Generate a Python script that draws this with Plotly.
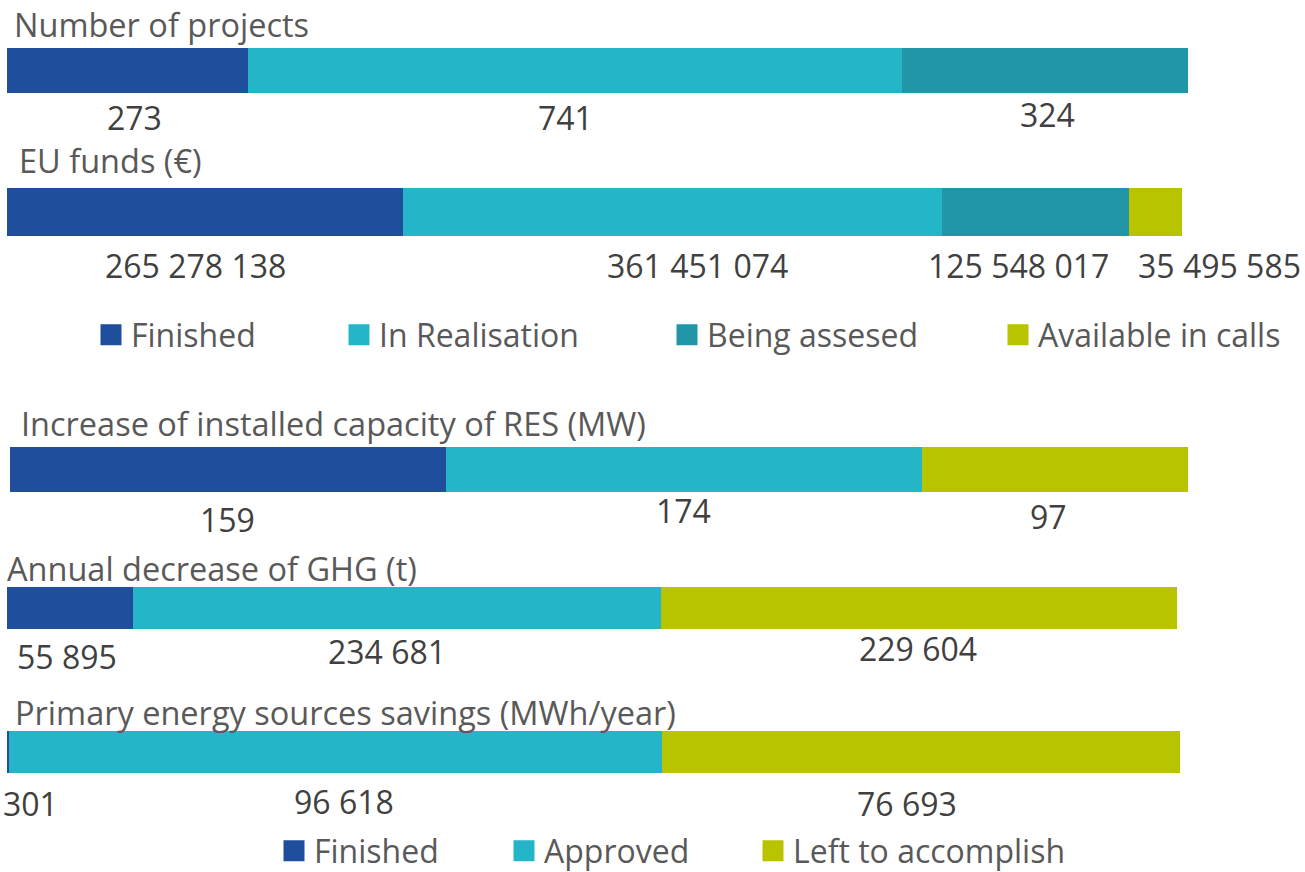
import plotly.graph_objects as go

# ---------------- data ----------------
status_top = ["Finished", "In Realisation", "Being assesed", "Available in calls"]
status_bottom = ["Finished", "Approved", "Left to accomplish"]

chart_titles = [
    "Number of projects",
    "EU funds (€)",
    "Increase of installed capacity of RES (MW)",
    "Annual decrease of GHG (t)",
    "Primary energy sources savings (MWh/year)",
]
projects = [273, 741, 324]                                   # Finished, In Realisation, Being assesed
eu_funds = [265278138, 361451074, 125548017, 35495585]       # + Available in calls
res_mw = [159, 174, 97]                                      # Finished, Approved, Left to accomplish
ghg_t = [55895, 234681, 229604]
pes_mwh = [301, 96618, 76693]

# ---------------- styles ----------------
W, H = 1305, 872
FONT = "Open Sans"
colors_top = ["#1F4E9D", "#25B5C9", "#2096A8", "#B8C400"]
colors_bottom = ["#1F4E9D", "#25B5C9", "#B8C400"]
TITLE_C = "#595959"
LABEL_C = "#404040"

# pixel placement of each bar (left, right, top, bottom)
bar_px = [
    (7, 1188, 48, 93),
    (7, 1182, 188, 236),
    (10, 1188, 447, 492),
    (7, 1177, 587, 629),
    (7, 1180, 731, 773),
]
title_shift = [(5, 24), (10, 28), (9, 23), (-2, 19), (6, 19)]
label_shift = [
    [(7, 24), (-9, 24), (2, 21)],
    [(-9, 29), (25, 29), (-17, 29), (64, 29)],
    [(0, 27), (0, 19), (-7, 24)],
    [(-3, 27), (-10, 22), (-1, 19)],
    [(22, 30), (9, 28), (-14, 30)],
]

series = [projects, eu_funds, res_mw, ghg_t, pes_mwh]
names = [status_top, status_top, status_bottom, status_bottom, status_bottom]
palettes = [colors_top, colors_top, colors_bottom, colors_bottom, colors_bottom]


def fmt(v):
    return f"{v:,}".replace(",", " ")


fig = go.Figure()
annotations = []
layout_axes = {}

for i, (vals, nms, pal) in enumerate(zip(series, names, palettes)):
    k = i + 1
    xa = "x" if k == 1 else f"x{k}"
    ya = "y" if k == 1 else f"y{k}"
    total = sum(vals)
    for j, v in enumerate(vals):
        fig.add_trace(go.Bar(
            x=[v], y=[0], orientation="h", width=1,
            marker=dict(color=pal[j], line=dict(width=0)),
            name=nms[j], showlegend=False, xaxis=xa, yaxis=ya,
            hovertemplate=f"{nms[j]}: {fmt(v)}<extra></extra>",
        ))
    l, r, t, b = bar_px[i]
    layout_axes[f"xaxis{'' if k == 1 else k}"] = dict(
        domain=[l / W, r / W], range=[0, total], visible=False, fixedrange=True)
    layout_axes[f"yaxis{'' if k == 1 else k}"] = dict(
        domain=[1 - b / H, 1 - t / H], range=[-0.5, 0.5], visible=False, fixedrange=True)

    # title
    dx, dy = title_shift[i]
    annotations.append(dict(
        text=chart_titles[i], xref=f"{xa} domain", yref=f"{ya} domain",
        x=0, y=1, xanchor="left", yanchor="middle", xshift=dx, yshift=dy,
        showarrow=False, font=dict(family=FONT, size=32.5, color=TITLE_C)))

    # value labels under each segment
    cum = 0
    for j, v in enumerate(vals):
        center = cum + v / 2
        cum += v
        sx, sy = label_shift[i][j]
        annotations.append(dict(
            text=fmt(v), xref=xa, yref=f"{ya} domain",
            x=center, y=0, xanchor="center", yanchor="middle",
            xshift=sx, yshift=-sy, showarrow=False,
            font=dict(family=FONT, size=32, color=LABEL_C)))

# legends (one legend per item so each can sit where the reference puts it)
legend_items = (
    [(n, c, sq_x, 335) for n, c, sq_x in zip(status_top, colors_top, [100, 348, 676, 1007])]
    + [(n, c, sq_x, 851) for n, c, sq_x in zip(status_bottom, colors_bottom, [283, 513, 762])]
)
for idx, (n, c, sq_x, yc) in enumerate(legend_items):
    lg = "legend" if idx == 0 else f"legend{idx + 1}"
    fig.add_trace(go.Scatter(
        x=[None], y=[None], mode="markers", name=n, legend=lg,
        marker=dict(symbol="square", size=16, color=c, line=dict(width=5, color=c)),
        hoverinfo="skip", showlegend=True,
    ))
    layout_axes[lg] = dict(
        x=(sq_x - 9) / W, y=1 - yc / H, xanchor="left", yanchor="middle",
        orientation="h", bgcolor="rgba(0,0,0,0)", borderwidth=0,
        font=dict(family=FONT, size=32, color=TITLE_C), itemclick=False, itemdoubleclick=False)

fig.update_layout(
    width=W, height=H, margin=dict(l=0, r=0, t=0, b=0, autoexpand=False),
    paper_bgcolor="white", plot_bgcolor="white",
    barmode="stack", annotations=annotations,
    font=dict(family=FONT),
    **layout_axes,
)

fig.write_html(
    "out.html",
    config={"displayModeBar": False},
    post_script="document.body.style.margin='0';document.body.style.overflow='hidden';",
)
